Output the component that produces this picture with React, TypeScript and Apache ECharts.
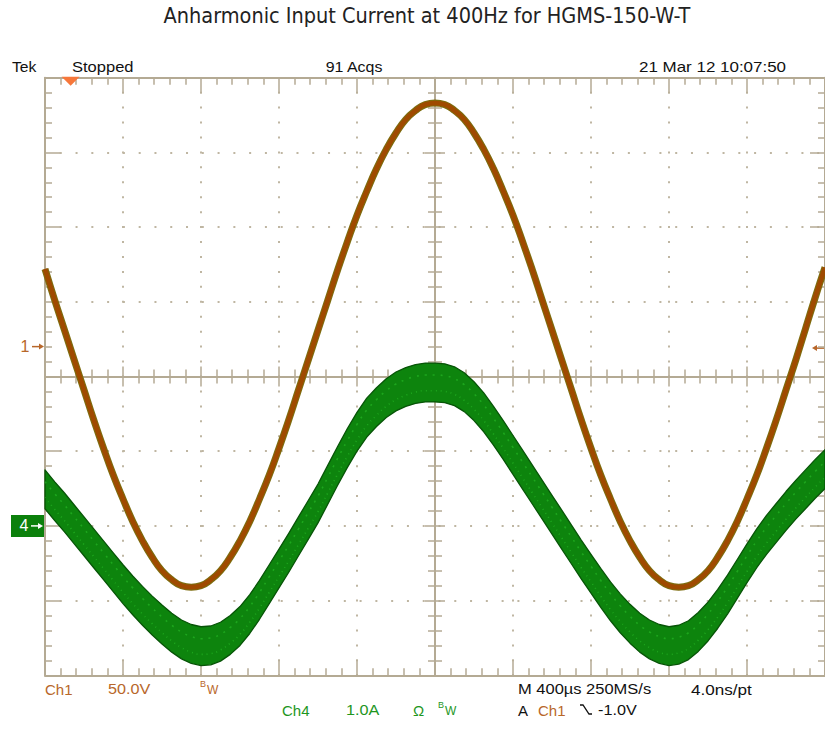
import React, { useEffect, useRef } from "react";
import * as echarts from "echarts";

// ---------- texts ----------
const TITLE = "Anharmonic Input Current at 400Hz for HGMS-150-W-T";
const headerTexts = ["Tek", "Stopped", "91 Acqs", "21 Mar 12 10:07:50"];
const ch1Texts = ["Ch1", "50.0V"];
const ch4Texts = ["Ch4", "1.0A", "Ω"];
const timebaseTexts = ["M 400µs 250MS/s", "4.0ns/pt"];
const triggerTexts = ["A", "Ch1", "-1.0V"];

// ---------- scope settings ----------
const TIME_PER_DIV_US = 400;
const CH1_VOLTS_PER_DIV = 50;
const CH1_OFFSET_DIV = 0.4;
const CH4_AMPS_PER_DIV = 1.0;
const CH4_OFFSET_DIV = -2.0;
const TRIGGER_TIME_US = -1870;
const TRIGGER_LEVEL_V = -1.0;

const timeUs = [
  -2000, -1950, -1900, -1850, -1800, -1750, -1700, -1650, -1600, -1550,
  -1500, -1450, -1400, -1350, -1300, -1250, -1200, -1150, -1100, -1050,
  -1000, -950, -900, -850, -800, -750, -700, -650, -600, -550,
  -500, -450, -400, -350, -300, -250, -200, -150, -100, -50,
  0,
  50, 100, 150, 200, 250, 300, 350, 400, 450, 500,
  550, 600, 650, 700, 750, 800, 850, 900, 950, 1000,
  1050, 1100, 1150, 1200, 1250, 1300, 1350, 1400, 1450, 1500,
  1550, 1600, 1650, 1700, 1750, 1800, 1850, 1900, 1950, 2000,
];
// Ch1 input voltage (V)
const ch1Volts = [
  52, 31, 11, -9, -29, -49, -68, -86, -102, -117,
  -130, -141, -150, -156, -160, -161, -160, -156, -150, -141,
  -130, -117, -102, -86, -68, -49, -29, -9, 11, 31,
  51, 70, 88, 104, 119, 132, 143, 152, 158, 162,
  163,
  162, 158, 152, 143, 132, 119, 104, 88, 70, 51,
  31, 11, -9, -29, -49, -68, -86, -102, -117, -130,
  -141, -150, -156, -160, -161, -160, -156, -150, -141, -130,
  -117, -102, -86, -68, -49, -29, -9, 12, 33, 53,
];
// Ch4 input current (A), centre of the noisy band
const ch4Amps = [
  0.49, 0.33, 0.18, 0.02, -0.14, -0.3, -0.46, -0.62, -0.78, -0.93,
  -1.07, -1.2, -1.32, -1.43, -1.52, -1.58, -1.61, -1.6, -1.55, -1.46,
  -1.34, -1.18, -0.99, -0.78, -0.57, -0.36, -0.14, 0.08, 0.3, 0.55,
  0.8, 1.04, 1.26, 1.45, 1.59, 1.71, 1.8, 1.86, 1.9, 1.92,
  1.92,
  1.91, 1.87, 1.79, 1.67, 1.52, 1.34, 1.15, 0.95, 0.75, 0.55,
  0.35, 0.15, -0.05, -0.25, -0.45, -0.64, -0.83, -1.01, -1.17, -1.31,
  -1.43, -1.52, -1.58, -1.61, -1.59, -1.53, -1.42, -1.28, -1.11, -0.92,
  -0.71, -0.5, -0.3, -0.12, 0.04, 0.2, 0.35, 0.49, 0.63, 0.76,
];
const ch4NoiseHalfBandA = 0.26;
const ch4SpeckleOffsetsA = [-0.11, 0.1];

// ---------- layout / style ----------
const GRID_LEFT = 45;
const GRID_TOP = 77.7;
const DIV_W = 78.9;
const DIV_H = 74.7;
const GRID_COLOR = "#b4aa94";
const DOT_COLOR = "#bfb6a2";
const CH1_COLOR = "#9f4a00";
const CH1_TEXT = "#b8672a";
const CH4_COLOR = "#0d840d";
const CH4_TEXT = "#1e961e";
const SCOPE_FONT = "'Liberation Sans', Arial, sans-serif";

const v2div = (v: number) => v / CH1_VOLTS_PER_DIV + CH1_OFFSET_DIV;
const a2div = (a: number) => a / CH4_AMPS_PER_DIV + CH4_OFFSET_DIV;
const divToY = (d: number) => GRID_TOP + (4 - d) * DIV_H;
const timeToX = (t: number) => GRID_LEFT + (t / TIME_PER_DIV_US + 5) * DIV_W;

function buildOption() {
  const tickStyle = { color: GRID_COLOR, width: 1.5 };
  const baseX = {
    type: "value",
    min: -5 * TIME_PER_DIV_US,
    max: 5 * TIME_PER_DIV_US,
    interval: TIME_PER_DIV_US,
    axisLabel: { show: false },
    splitLine: { show: false },
  };
  const baseY = {
    type: "value",
    min: -4,
    max: 4,
    interval: 1,
    axisLabel: { show: false },
    splitLine: { show: false },
  };
  const edge = () => ({
    axisLine: { show: true, onZero: false, lineStyle: { color: GRID_COLOR, width: 2 } },
    axisTick: { show: true, inside: true, length: 15, lineStyle: tickStyle },
    minorTick: { show: true, splitNumber: 5, length: 7, lineStyle: tickStyle },
  });
  const cross = (inside: boolean, showLine: boolean) => ({
    axisLine: {
      show: showLine,
      onZero: true,
      onZeroAxisIndex: 0,
      lineStyle: { color: GRID_COLOR, width: 2 },
    },
    axisTick: { show: true, inside, length: 10, lineStyle: tickStyle },
    minorTick: { show: true, splitNumber: 5, length: 7, lineStyle: tickStyle },
  });

  const xAxis = [
    {
      ...baseX,
      position: "bottom",
      ...edge(),
      splitLine: {
        show: true,
        lineStyle: { color: DOT_COLOR, width: 2, type: [2, DIV_H / 5 - 2], dashOffset: 1 },
      },
    },
    { ...baseX, position: "top", ...edge() },
    { ...baseX, position: "bottom", ...cross(true, true) },
    { ...baseX, position: "bottom", ...cross(false, false) },
  ];
  const yAxis = [
    {
      ...baseY,
      position: "left",
      ...edge(),
      splitLine: {
        show: true,
        lineStyle: { color: DOT_COLOR, width: 2, type: [2, DIV_W / 5 - 2], dashOffset: 1 },
      },
    },
    { ...baseY, position: "right", ...edge() },
    { ...baseY, position: "left", ...cross(true, true) },
    { ...baseY, position: "left", ...cross(false, false) },
  ];

  const ch1Data = timeUs.map((t, i) => [t, v2div(ch1Volts[i])]);
  const ch4Data = timeUs.map((t, i) => [
    t,
    a2div(ch4Amps[i] - ch4NoiseHalfBandA),
    a2div(ch4Amps[i] + ch4NoiseHalfBandA),
  ]);

  const speckles = ch4SpeckleOffsetsA.map((off, k) => ({
    type: "line",
    name: "Ch4 noise " + k,
    data: timeUs.map((t, i) => [t, a2div(ch4Amps[i] + off)]),
    smooth: true,
    showSymbol: false,
    silent: true,
    lineStyle: {
      color: "#27b827",
      width: 1.6,
      type: k === 0 ? [1, 4] : [2, 6],
      opacity: 0.65,
    },
    z: 3,
  }));

  const series: any[] = [
    {
      type: "custom",
      name: "Ch4",
      xAxisIndex: 0,
      yAxisIndex: 0,
      data: ch4Data,
      encode: { x: 0, y: [1, 2] },
      renderItem: (params: any, api: any) => {
        if (params.dataIndex !== 0) return null;
        const upper = ch4Data.map((d) => api.coord([d[0], d[2]]));
        const lower = ch4Data.map((d) => api.coord([d[0], d[1]])).reverse();
        return {
          type: "polygon",
          shape: { points: upper.concat(lower) },
          style: { fill: CH4_COLOR, stroke: "#075407", lineWidth: 1.3, lineJoin: "round" },
        };
      },
      z: 3,
    },
    ...speckles,
    {
      type: "line",
      name: "Ch1 edge",
      data: ch1Data,
      smooth: true,
      showSymbol: false,
      lineStyle: { color: "#7d6c0e", width: 7 },
      z: 4,
    },
    {
      type: "line",
      name: "Ch1",
      data: ch1Data,
      smooth: true,
      showSymbol: false,
      lineStyle: { color: CH1_COLOR, width: 4.8 },
      z: 5,
    },
  ];

  const txt = (
    text: string,
    x: number,
    y: number,
    fill: string,
    size = 15,
    align = "left",
    sx = 1.1,
    family = SCOPE_FONT
  ) => ({
    type: "text",
    x,
    y,
    scaleX: sx,
    silent: true,
    style: { text, fill, fontSize: size, fontFamily: family, align, verticalAlign: "middle" },
  });

  const ch1Y = divToY(CH1_OFFSET_DIV);
  const ch4Y = divToY(CH4_OFFSET_DIV);
  const trigY = divToY(v2div(TRIGGER_LEVEL_V));
  const trigX = timeToX(TRIGGER_TIME_US);
  const row1 = 689;
  const row2 = 710;
  const hdr = 66.5;

  const graphic: any[] = [
    txt(TITLE, 427, 15, "#222", 21.5, "center", 1,
      "'DejaVu Sans Condensed', 'Liberation Sans Narrow', 'Roboto Condensed', 'DejaVu Sans', sans-serif"),
    txt(headerTexts[0], 12, hdr, "#111", 14.5, "left", 1.08),
    txt(headerTexts[1], 72, hdr, "#111", 14.5, "left", 1.14),
    txt(headerTexts[2], 354, hdr, "#111", 14.5, "center", 1.1),
    txt(headerTexts[3], 786, hdr, "#111", 14.5, "right", 1.17),
    // trigger position marker
    {
      type: "polygon",
      z: 100,
      shape: { points: [[trigX - 9, GRID_TOP - 1], [trigX + 9, GRID_TOP - 1], [trigX, GRID_TOP + 8]] },
      style: { fill: "#f7773a" },
    },
    // ch1 ground marker
    txt("1", 25, ch1Y, CH1_TEXT, 16, "center", 1),
    { type: "line", shape: { x1: 32, y1: ch1Y, x2: 41, y2: ch1Y }, style: { stroke: CH1_TEXT, lineWidth: 1.5 } },
    { type: "polygon", shape: { points: [[44, ch1Y], [39, ch1Y - 3], [39, ch1Y + 3]] }, style: { fill: CH1_TEXT } },
    // trigger level marker (right)
    { type: "line", shape: { x1: 816, y1: trigY, x2: 826, y2: trigY }, style: { stroke: CH1_TEXT, lineWidth: 1.5 } },
    { type: "polygon", shape: { points: [[812, trigY], [817, trigY - 3], [817, trigY + 3]] }, style: { fill: CH1_TEXT } },
    // ch4 ground marker
    { type: "rect", shape: { x: 11, y: ch4Y - 11, width: 34, height: 22 }, style: { fill: "#0b800b" } },
    txt("4", 24, ch4Y, "#fff", 16, "center", 1),
    { type: "line", shape: { x1: 31, y1: ch4Y, x2: 39, y2: ch4Y }, style: { stroke: "#fff", lineWidth: 1.5 } },
    { type: "polygon", shape: { points: [[43, ch4Y], [38, ch4Y - 3], [38, ch4Y + 3]] }, style: { fill: "#fff" } },
    // bottom readouts
    txt(ch1Texts[0], 45, row1, CH1_TEXT, 15, "left", 1.0),
    txt(ch1Texts[1], 108, row1, CH1_TEXT, 15, "left", 1.08),
    txt("B", 200, row1 - 5, CH1_TEXT, 9, "left", 1),
    txt("W", 207, row1 + 1, CH1_TEXT, 12, "left", 1),
    txt(ch4Texts[0], 282, row2, CH4_TEXT, 15, "left", 1.0),
    txt(ch4Texts[1], 346, row2, CH4_TEXT, 15, "left", 1.08),
    txt(ch4Texts[2], 413, row2, CH4_TEXT, 15, "left", 1.0),
    txt("B", 438, row2 - 5, CH4_TEXT, 9, "left", 1),
    txt("W", 445, row2 + 1, CH4_TEXT, 12, "left", 1),
    txt(timebaseTexts[0], 518, row1, "#111", 15, "left", 1.1),
    txt(timebaseTexts[1], 691, row1, "#111", 15, "left", 1.14),
    txt(triggerTexts[0], 518, row2, "#111", 15, "left", 1.0),
    txt(triggerTexts[1], 538, row2, CH1_TEXT, 15, "left", 1.0),
    {
      type: "polyline",
      shape: { points: [[580, row2 - 5], [583, row2 - 5], [589, row2 + 4], [592, row2 + 4]] },
      style: { stroke: "#111", lineWidth: 1.3, fill: null },
    },
    txt(triggerTexts[2], 598, row2, "#111", 15, "left", 1.08),
  ];

  return {
    animation: false,
    backgroundColor: "#ffffff",
    grid: { left: GRID_LEFT, top: GRID_TOP, width: DIV_W * 10, height: DIV_H * 8, show: false },
    xAxis,
    yAxis,
    series,
    graphic,
  };
}

export default function App() {
  const ref = useRef<HTMLDivElement>(null);
  useEffect(() => {
    document.body.style.margin = "0";
    const chart = echarts.init(ref.current as HTMLDivElement, null, { renderer: "svg" });
    chart.setOption(buildOption() as any);
    return () => chart.dispose();
  }, []);
  return (
    <div
      ref={ref}
      style={{ position: "absolute", left: 0, top: 0, width: 825, height: 729, background: "#fff" }}
    />
  );
}
